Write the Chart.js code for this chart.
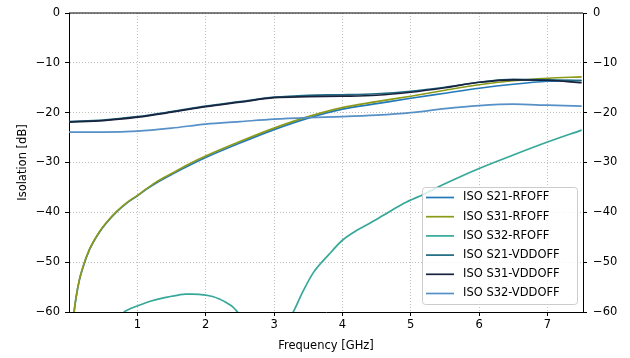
<!DOCTYPE html>
<html>
<head>
<meta charset="utf-8">
<script src="https://cdn.jsdelivr.net/npm/chart.js@4.4.1/dist/chart.umd.min.js"></script>
<style>
  html, body { margin: 0; padding: 0; background: #fff; }
  #wrap { width: 630px; height: 358px; }
</style>
</head>
<body>
<div id="wrap"><canvas id="myChart" width="630" height="358"></canvas></div>
<script>
// tick labels
const xTicks = [1, 2, 3, 4, 5, 6, 7];
const yTicks = [0, -10, -20, -30, -40, -50, -60];

// series names
const seriesNames = ['ISO S21-RFOFF', 'ISO S31-RFOFF', 'ISO S32-RFOFF', 'ISO S21-VDDOFF', 'ISO S31-VDDOFF', 'ISO S32-VDDOFF'];

// RF-off S21 / S31 (GHz, dB)
const freqRf = [0.07, 0.08, 0.1, 0.15, 0.2, 0.3, 0.45, 0.55, 0.69, 0.85, 1, 1.13, 1.3, 1.5, 1.8, 2, 2.5, 3, 3.5, 4, 4.5, 5, 5.5, 6, 6.5, 7, 7.5];
const s21Rf = [-60.6, -59.4, -57.4, -53.7, -51.2, -47.5, -43.9, -42.1, -40.0, -38.1, -36.7, -35.4, -33.9, -32.4, -30.3, -29.0, -26.1, -23.4, -21.1, -19.3, -18.2, -17.1, -16.1, -15.1, -14.3, -13.7, -13.5];
const s31Rf = [-60.5, -59.3, -57.3, -53.6, -51.1, -47.4, -43.8, -42.0, -39.9, -38.0, -36.6, -35.3, -33.7, -32.2, -30.0, -28.7, -25.8, -23.1, -20.8, -19.0, -17.8, -16.7, -15.5, -14.4, -13.6, -13.1, -12.8];

// RF-off S32, dips below the axis between the two humps
const freqS32Rf = [0.8, 0.9, 1.0, 1.2, 1.4, 1.6, 1.7, 1.8, 2.0, 2.1, 2.2, 2.3, 2.4, 2.5, 2.7, 3.0, 3.2, 3.28, 3.4, 3.57, 3.8, 4.0, 4.2, 4.4, 4.6, 4.9, 5.2, 5.4, 5.7, 6.0, 6.5, 7.0, 7.5];
const s32Rf = [-60, -59.3, -58.8, -57.8, -57.1, -56.6, -56.4, -56.4, -56.6, -56.9, -57.4, -58.1, -59.0, -60.5, -62, -63, -61.5, -60, -56.5, -52.2, -48.5, -45.6, -43.7, -42.2, -40.6, -38.2, -36.3, -34.9, -33.0, -31.2, -28.5, -25.9, -23.5];

// VDD-off series
const freqVdd = [0, 0.5, 1, 1.5, 2, 2.5, 3, 3.5, 4, 4.5, 5, 5.5, 6, 6.5, 7, 7.5];
const s21Vdd = [-21.8, -21.5, -20.8, -19.8, -18.7, -17.8, -16.9, -16.5, -16.4, -16.2, -15.7, -14.9, -13.9, -13.3, -13.4, -13.6];
const s31Vdd = [-21.9, -21.6, -20.9, -19.9, -18.8, -17.9, -17.0, -16.8, -16.7, -16.5, -15.9, -15.0, -13.9, -13.4, -13.5, -14.0];
const s32Vdd = [-23.9, -23.9, -23.7, -23.1, -22.3, -21.8, -21.3, -21.0, -20.8, -20.5, -20.0, -19.2, -18.6, -18.3, -18.5, -18.7];

const colors = ['#2379b6', '#8b9a18', '#35a89a', '#1d6982', '#19233e', '#5590c6'];

function pts(xs, ys) {
  return xs.map(function (x, i) { return { x: x, y: ys[i] }; });
}

const seriesData = [
  pts(freqRf, s21Rf),
  pts(freqRf, s31Rf),
  pts(freqS32Rf, s32Rf),
  pts(freqVdd, s21Vdd),
  pts(freqVdd, s31Vdd),
  pts(freqVdd, s32Vdd)
];

const FONT = { family: 'DejaVu Sans', size: 11.5 };

function minus(v) {
  return v < 0 ? '\u2212' + Math.abs(v) : String(v);
}

// matplotlib-like legend box in the lower right of the plot
const boxLegend = {
  id: 'boxLegend',
  afterDraw: function (chart) {
    const ctx = chart.ctx;
    const a = chart.chartArea;
    const w = 155, h = 117;
    const x0 = a.right - 6 - w, y0 = a.bottom - 8 - h;
    ctx.save();
    ctx.fillStyle = 'rgba(255,255,255,0.8)';
    ctx.strokeStyle = '#cccccc';
    ctx.lineWidth = 1;
    ctx.beginPath();
    ctx.roundRect(x0 + 0.5, y0 + 0.5, w, h, 3);
    ctx.fill();
    ctx.stroke();
    ctx.font = FONT.size + 'px ' + FONT.family;
    ctx.textBaseline = 'middle';
    ctx.fillStyle = '#000';
    chart.data.datasets.forEach(function (ds, i) {
      const y = y0 + 10.5 + i * 19.2;
      ctx.strokeStyle = ds.borderColor;
      ctx.lineWidth = 1.7;
      ctx.beginPath();
      ctx.moveTo(x0 + 4, y);
      ctx.lineTo(x0 + 32, y);
      ctx.stroke();
      ctx.fillText(ds.label, x0 + 41, y);
    });
    // top spine
    ctx.strokeStyle = '#000';
    ctx.lineWidth = 1;
    ctx.beginPath();
    ctx.moveTo(a.left, a.top);
    ctx.lineTo(a.right, a.top);
    ctx.stroke();
    ctx.restore();
  }
};

const gridOpts = {
  color: '#b0b0b0',
  lineWidth: 0.8,
  tickLength: 4,
  tickColor: '#000',
  tickWidth: 1,
  tickBorderDash: [1, 0]
};

new Chart(document.getElementById('myChart'), {
  type: 'line',
  data: {
    datasets: seriesData.map(function (d, i) {
      return {
        label: seriesNames[i],
        data: d,
        borderColor: colors[i],
        backgroundColor: colors[i],
        borderWidth: 1.7,
        pointRadius: 0,
        cubicInterpolationMode: 'monotone',
        clip: 0,
        order: 5 - i
      };
    })
  },
  options: {
    responsive: false,
    animation: false,
    layout: { padding: { top: 13, left: 0, right: 0, bottom: 0 } },
    plugins: {
      legend: { display: false },
      tooltip: { enabled: false }
    },
    scales: {
      x: {
        type: 'linear',
        min: 0,
        max: 7.52,
        afterBuildTicks: function (s) { s.ticks = xTicks.map(function (v) { return { value: v }; }); },
        afterFit: function (s) { s.height = 46; },
        ticks: { color: '#000', font: FONT, padding: 2, maxRotation: 0, autoSkip: false },
        grid: gridOpts,
        border: { display: true, color: '#000', width: 1, dash: [1, 2] },
        title: { display: true, text: 'Frequency [GHz]', color: '#000', font: FONT, padding: { top: 0, bottom: 5 } }
      },
      y: {
        type: 'linear',
        position: 'left',
        min: -60,
        max: 0,
        afterBuildTicks: function (s) { s.ticks = yTicks.map(function (v) { return { value: v }; }); },
        afterFit: function (s) { s.width = 69; },
        ticks: { color: '#000', font: FONT, padding: 5, callback: minus },
        grid: gridOpts,
        border: { display: true, color: '#000', width: 1, dash: [1, 2] },
        title: { display: true, text: 'Isolation [dB]', color: '#000', font: FONT, padding: { top: 16, bottom: 0 } }
      },
      y2: {
        type: 'linear',
        position: 'right',
        min: -60,
        max: 0,
        afterBuildTicks: function (s) { s.ticks = yTicks.map(function (v) { return { value: v }; }); },
        afterFit: function (s) { s.width = 47; },
        ticks: { color: '#000', font: FONT, padding: 6, callback: minus },
        grid: Object.assign({}, gridOpts, { drawOnChartArea: false }),
        border: { display: true, color: '#000', width: 1 }
      }
    }
  },
  plugins: [boxLegend]
});
</script>
</body>
</html>
